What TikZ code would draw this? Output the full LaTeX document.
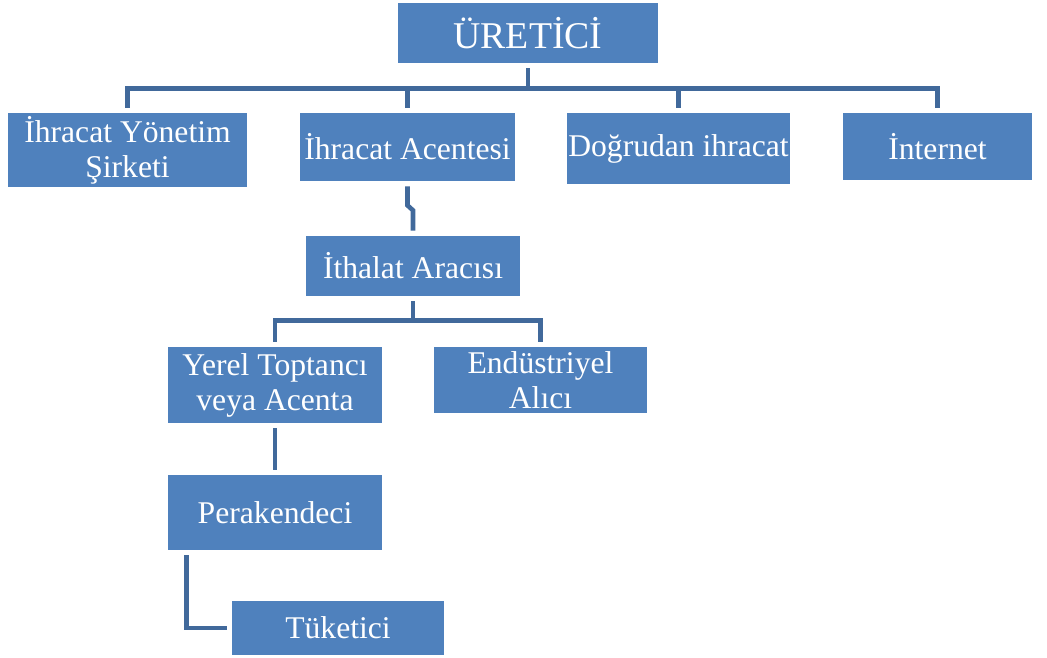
\documentclass[tikz,border=0pt]{standalone}
\usepackage{fontspec}
\setmainfont{Liberation Serif}
\definecolor{boxblue}{HTML}{4F81BD}
\definecolor{linkblue}{HTML}{41699B}
\begin{document}
\begin{tikzpicture}[x=0.02cm,y=-0.02cm,
	box/.style={fill=boxblue,text=white,inner sep=0pt,align=center,
		font=\fontsize{18}{20}\selectfont},
	link/.style={draw=linkblue,line width=2.6pt,shorten <=0.1cm,shorten >=0.1cm}]
	\useasboundingbox (0,0) rectangle (1047,657);

	\node (ure) [box,minimum width=5.2cm,minimum height=1.2cm,font=\fontsize{21.5}{24}\selectfont] at (528,33) {ÜRETİCİ};
	\node (iys) [box,minimum width=4.78cm,minimum height=1.48cm] at (127.5,150) {İhracat Yönetim\\Şirketi};
	\node (iac) [box,minimum width=4.3cm,minimum height=1.36cm] at (407.5,147) {İhracat Acentesi};
	\node (dog) [box,minimum width=4.46cm,minimum height=1.42cm] at (678.5,148.5) {Doğrudan ihracat};
	\node (int) [box,minimum width=3.78cm,minimum height=1.34cm] at (937.5,146.5) {İnternet};
	\node (ith) [box,minimum width=4.28cm,minimum height=1.2cm] at (413,266) {İthalat Aracısı};
	\node (yer) [box,minimum width=4.28cm,minimum height=1.52cm] at (275,385) {Yerel Toptancı\\veya Acenta};
	\node (end) [box,minimum width=4.26cm,minimum height=1.32cm] at (540.5,380) {Endüstriyel\\Alıcı};
	\node (per) [box,minimum width=4.28cm,minimum height=1.5cm] at (275,512.5) {Perakendeci};
	\node (tuk) [box,minimum width=4.24cm,minimum height=1.08cm] at (338,628) {Tüketici};

	\draw[link] (ure.south) -- ++(0,25) -| (iys.north);
	\draw[link] (ure.south) -- ++(0,25) -| (iac.north);
	\draw[link] (ure.south) -- ++(0,25) -| (dog.north);
	\draw[link] (ure.south) -- ++(0,25) -| (int.north);
	\draw[link] (iac.south) -- ++(0,24) -- ++(5.5,5) -- (ith.north);
	\draw[link] (ith.south) -- ++(0,24) -| (yer.north);
	\draw[link] (ith.south) -- ++(0,24) -| (end.north);
	\draw[link] (yer.south) -- (per.north);
	\draw[link] ([xshift=0.38cm]per.south west) |- (tuk.west);
\end{tikzpicture}
\end{document}
